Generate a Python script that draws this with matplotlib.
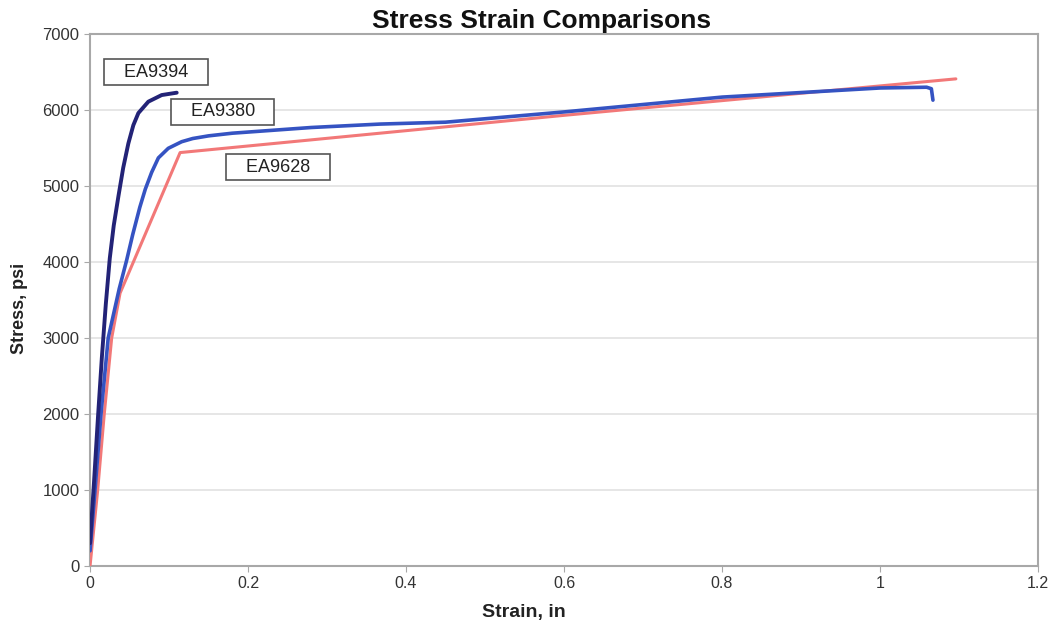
#stress strain comparison of three adhesives
import matplotlib.pyplot as plt

plt.rcParams['font.family'] = ['Liberation Sans', 'DejaVu Sans']

# EA9394 - stiffest, stops early
strain_9394 = [0, 0.005, 0.010, 0.015, 0.020, 0.025, 0.030, 0.036, 0.042, 0.0485,
               0.0548, 0.0612, 0.0738, 0.0907, 0.1097]
stress_9394 = [300, 1100, 1950, 2750, 3450, 4050, 4480, 4870, 5240, 5560,
               5800, 5960, 6110, 6197, 6228]

# EA9380
strain_9380 = [0, 0.0063, 0.0139, 0.023, 0.037, 0.0464, 0.054, 0.063, 0.070, 0.078,
               0.0865, 0.099, 0.116, 0.13, 0.15, 0.18, 0.22, 0.28, 0.367,
               0.45, 0.6, 0.8, 1.0, 1.059, 1.065, 1.067]
stress_9380 = [200, 1000, 2000, 3000, 3650, 4026, 4360, 4720, 4960, 5180,
               5370, 5496, 5583, 5625, 5660, 5695, 5725, 5770, 5815,
               5840, 5975, 6170, 6290, 6300, 6280, 6130]

# EA9628 - piecewise linear
strain_9628 = [0, 0.0097, 0.018, 0.0274, 0.038, 0.114, 0.6, 1.096]
stress_9628 = [0, 1000, 2000, 3000, 3590, 5440, 5930, 6410]

labels = ['EA9394', 'EA9380', 'EA9628']
label_x = [0.0835, 0.168, 0.238]
label_y = [6500, 5975, 5250]

fig = plt.figure(figsize=(10.63, 6.22), dpi=100)
ax = fig.add_axes([0.0847, 0.09, 0.8918, 0.8553])

ax.plot(strain_9628, stress_9628, color='#f27878', lw=2.2, solid_capstyle='round', zorder=3)
ax.plot(strain_9380, stress_9380, color='#3553c2', lw=2.6, solid_capstyle='round', zorder=4)
ax.plot(strain_9394, stress_9394, color='#232377', lw=2.8, solid_capstyle='round', zorder=5)

for t, x, y in zip(labels, label_x, label_y):
    ax.text(x, y, '   ' + t + '   ', fontsize=13, ha='center', va='center', color='#222222',
            zorder=6, bbox=dict(boxstyle='square,pad=0.25', fc='white', ec='#555555', lw=1.2))

ax.set_xlim(0, 1.2)
ax.set_ylim(0, 7000)
ax.set_xticks([0, 0.2, 0.4, 0.6, 0.8, 1, 1.2])
ax.set_xticklabels(['0', '0.2', '0.4', '0.6', '0.8', '1', '1.2'])
ax.set_yticks(range(0, 7001, 1000))
ax.yaxis.grid(True, color='#e2e2e2', lw=1.2)
ax.set_axisbelow(True)
for s in ax.spines.values():
    s.set_color('#a8a8a8')
    s.set_linewidth(1.5)
ax.tick_params(colors='#a8a8a8', labelcolor='#333333', length=4)
ax.tick_params(axis='y', labelsize=12)
ax.tick_params(axis='x', labelsize=11.5)

fig.text(524 / 1063, 1 - 613 / 622, 'Strain, in', fontsize=14, fontweight='bold',
         color='#222222', ha='center', va='center')
fig.text(20 / 1063, 1 - 308 / 622, 'Stress, psi', fontsize=13, fontweight='bold',
         color='#222222', ha='center', va='center', rotation=90)
fig.text(0.509, 0.967, 'Stress Strain Comparisons', fontsize=19, fontweight='bold',
         ha='center', va='center', color='#111111')

fig.savefig('out.png', dpi=100)
